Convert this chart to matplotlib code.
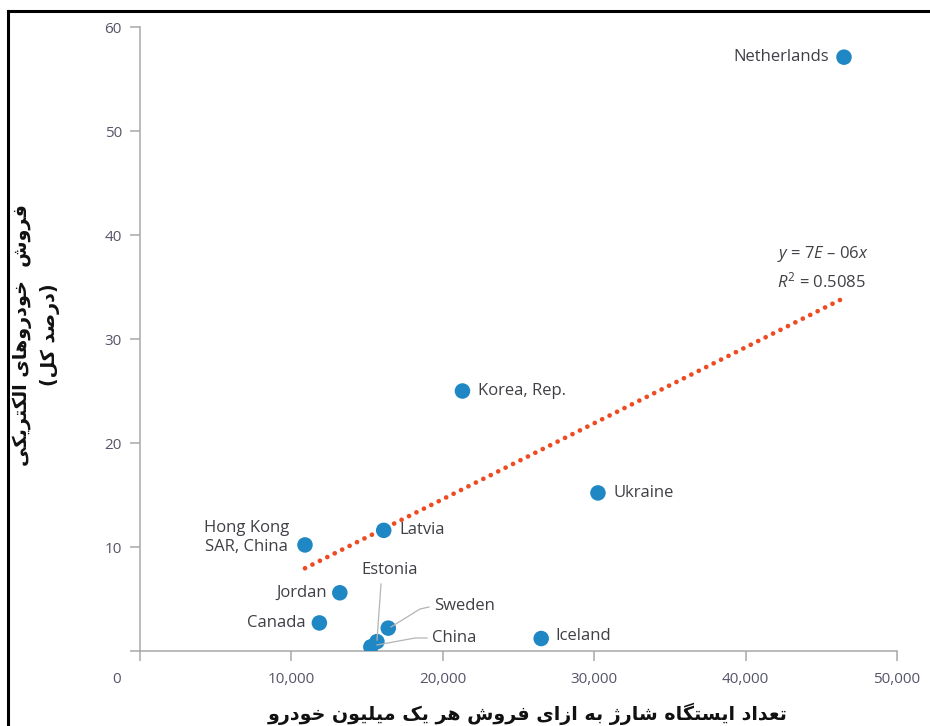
import matplotlib
matplotlib.use('Agg')
import matplotlib.pyplot as plt
import matplotlib.transforms as mtransforms
from matplotlib.lines import Line2D

plt.rcParams['font.family'] = ['Open Sans', 'DejaVu Sans']
plt.rcParams['mathtext.fontset'] = 'custom'
plt.rcParams['mathtext.rm'] = 'Open Sans'
plt.rcParams['mathtext.it'] = 'Open Sans:italic'

# charging stations per million EV sales vs EV share of car sales (%)
countries = ['Netherlands', 'Korea, Rep.', 'Ukraine', 'Latvia', 'Hong Kong\nSAR, China',
             'Jordan', 'Canada', 'Sweden', 'Estonia', 'China', 'Iceland']
stations = [46500, 21300, 30250, 16100, 10900, 13200, 11850, 16400, 15650, 15250, 26500]
ev_share = [57.1, 25.0, 15.2, 11.6, 10.2, 5.6, 2.7, 2.2, 0.9, 0.4, 1.2]

trend_slope = 7.3e-06          # share as a fraction per station
trend_r2 = 0.5085
trend_x = [10900, 46400]

x_ticks = [0, 10000, 20000, 30000, 40000, 50000]
x_ticklabels = ['0', '10,000', '20,000', '30,000', '40,000', '50,000']
y_ticks = [0, 10, 20, 30, 40, 50, 60]
y_ticklabels = ['', '10', '20', '30', '40', '50', '60']

xlabel_fa = 'تعداد ایستگاه شارژ به ازای فروش هر یک میلیون خودرو'
ylabel_fa = ['فروش  خودروهای الکتریکی', '(درصد کل)']

# (isolated, final, initial, medial) presentation forms
FORMS = {
    'ا': ('\uFE8D', '\uFE8E', None, None),
    'ب': ('\uFE8F', '\uFE90', '\uFE91', '\uFE92'),
    'ت': ('\uFE95', '\uFE96', '\uFE97', '\uFE98'),
    'خ': ('\uFEA5', '\uFEA6', '\uFEA7', '\uFEA8'),
    'د': ('\uFEA9', '\uFEAA', None, None),
    'ر': ('\uFEAD', '\uFEAE', None, None),
    'ز': ('\uFEAF', '\uFEB0', None, None),
    'س': ('\uFEB1', '\uFEB2', '\uFEB3', '\uFEB4'),
    'ش': ('\uFEB5', '\uFEB6', '\uFEB7', '\uFEB8'),
    'ص': ('\uFEB9', '\uFEBA', '\uFEBB', '\uFEBC'),
    'ع': ('\uFEC9', '\uFECA', '\uFECB', '\uFECC'),
    'ف': ('\uFED1', '\uFED2', '\uFED3', '\uFED4'),
    'ل': ('\uFEDD', '\uFEDE', '\uFEDF', '\uFEE0'),
    'م': ('\uFEE1', '\uFEE2', '\uFEE3', '\uFEE4'),
    'ن': ('\uFEE5', '\uFEE6', '\uFEE7', '\uFEE8'),
    'ه': ('\uFEE9', '\uFEEA', '\uFEEB', '\uFEEC'),
    'و': ('\uFEED', '\uFEEE', None, None),
    'ژ': ('\uFB8A', '\uFB8B', None, None),
    'ک': ('\uFB8E', '\uFB8F', '\uFB90', '\uFB91'),
    'گ': ('\uFB92', '\uFB93', '\uFB94', '\uFB95'),
    'ی': ('\uFBFC', '\uFBFD', '\uFBFE', '\uFBFF'),
}
MIRROR = {'(': ')', ')': '('}


def shape_fa(text):
    """Join Persian letters into presentation forms and lay them out right to left."""
    def dual(c):
        return c in FORMS and FORMS[c][2] is not None

    out = []
    for i, c in enumerate(text):
        if c not in FORMS:
            out.append(MIRROR.get(c, c))
            continue
        prev_j = i > 0 and dual(text[i - 1])
        next_j = dual(c) and i + 1 < len(text) and text[i + 1] in FORMS
        iso, fin, ini, med = FORMS[c]
        if prev_j and next_j:
            out.append(med)
        elif prev_j:
            out.append(fin)
        elif next_j:
            out.append(ini)
        else:
            out.append(iso)
    return ''.join(reversed(out))


fig = plt.figure(figsize=(9.3, 7.26), dpi=100)
ax = fig.add_axes([0.1505, 0.1033, 0.8140, 0.8595])

axis_grey = '#a8a8a8'
text_col = '#3f3f46'
tick_col = '#55556a'
label_size = 12

# trend line through origin (slope in fraction, axis in percent)
ty = [trend_slope * x * 100 for x in trend_x]
ax.plot(trend_x, ty, color='#ee4b22', linewidth=3.4,
        linestyle=(0, (0.01, 1.75)), dash_capstyle='round', zorder=2)

ax.scatter(stations, ev_share, s=125, color='#1f87c4', edgecolors='none', zorder=3)

# country labels: (dx, dy) offsets in points, alignment
label_pos = {
    'Netherlands': (-11, 0, 'right'),
    'Korea, Rep.': (11, 0, 'left'),
    'Ukraine': (11, 0, 'left'),
    'Latvia': (11, 0, 'left'),
    'Hong Kong\nSAR, China': (-42, 5, 'center'),
    'Jordan': (-9, 0, 'right'),
    'Canada': (-10, 0, 'right'),
    'Iceland': (10, 2, 'left'),
}
for name, x, y in zip(countries, stations, ev_share):
    if name not in label_pos:
        continue
    dx, dy, ha = label_pos[name]
    ax.annotate(name, (x, y), xytext=(dx, dy), textcoords='offset points',
                ha=ha, va='center', fontsize=label_size, color=text_col,
                linespacing=1.25, zorder=4)

# labels for the cluster near the axis, placed in figure pixels from the top
cluster_labels = {'Sweden': (434, 606, 'left'),
                  'China': (432, 638, 'left'),
                  'Estonia': (390, 570, 'center')}
for name, (xp, yp, ha) in cluster_labels.items():
    fig.text(xp / 930, 1 - yp / 726, name, ha=ha, va='center',
             fontsize=label_size, color=text_col)

leader = dict(color='#b4b4b4', linewidth=0.9)


def leader_line(points):
    xs = [p[0] / 930 for p in points]
    ys = [1 - p[1] / 726 for p in points]
    fig.lines.append(Line2D(xs, ys, transform=fig.transFigure, **leader))


leader_line([(391, 627), (420, 609), (429, 607)])
leader_line([(377, 645), (415, 638), (427, 638)])
leader_line([(381, 584), (377, 640)])

ax.text(0.842, 0.636, '$y$ = 7$E$ – 06$x$', transform=ax.transAxes,
        fontsize=label_size, color=text_col, ha='left', va='center')
ax.text(0.842, 0.593, '$R^2$ = %.4f' % trend_r2, transform=ax.transAxes,
        fontsize=label_size, color=text_col, ha='left', va='center')

ax.set_xlim(0, 50000)
ax.set_ylim(0, 60)
ax.set_xticks(x_ticks)
ax.set_xticklabels(x_ticklabels)
ax.set_yticks(y_ticks)
ax.set_yticklabels(y_ticklabels)
for s in ('top', 'right'):
    ax.spines[s].set_visible(False)
for s in ('left', 'bottom'):
    ax.spines[s].set_color(axis_grey)
    ax.spines[s].set_linewidth(1.1)
ax.tick_params(axis='both', colors=axis_grey, labelcolor=tick_col,
               labelsize=11, length=7, width=1.1)
ax.tick_params(axis='x', pad=8)
ax.tick_params(axis='y', pad=6)
zero_label = ax.xaxis.get_majorticklabels()[0]
zero_label.set_transform(zero_label.get_transform()
                         + mtransforms.ScaledTranslation(-0.23, 0, fig.dpi_scale_trans))
for t in ax.texts:
    t.set_clip_on(False)

# Persian axis titles
fa_style = dict(fontweight='bold', family='DejaVu Sans', color='#111111')
fig.text(0.567, 0.0165, shape_fa(xlabel_fa), ha='center', va='center',
         fontsize=13.7, **fa_style)
fig.text(0.024, 0.539, shape_fa(ylabel_fa[0]), ha='center', va='center', rotation=90,
         fontsize=13.8, **fa_style)
fig.text(0.054, 0.539, shape_fa(ylabel_fa[1]), ha='center', va='center', rotation=90,
         fontsize=13.8, **fa_style)

# black frame on the left and top edges
fig.lines.append(Line2D([8 / 930, 8 / 930], [0, 1 - 11 / 726], transform=fig.transFigure,
                        color='black', linewidth=2.2))
fig.lines.append(Line2D([8 / 930, 1], [1 - 11 / 726, 1 - 11 / 726], transform=fig.transFigure,
                        color='black', linewidth=2.2))

fig.savefig('out.png', dpi=100)
